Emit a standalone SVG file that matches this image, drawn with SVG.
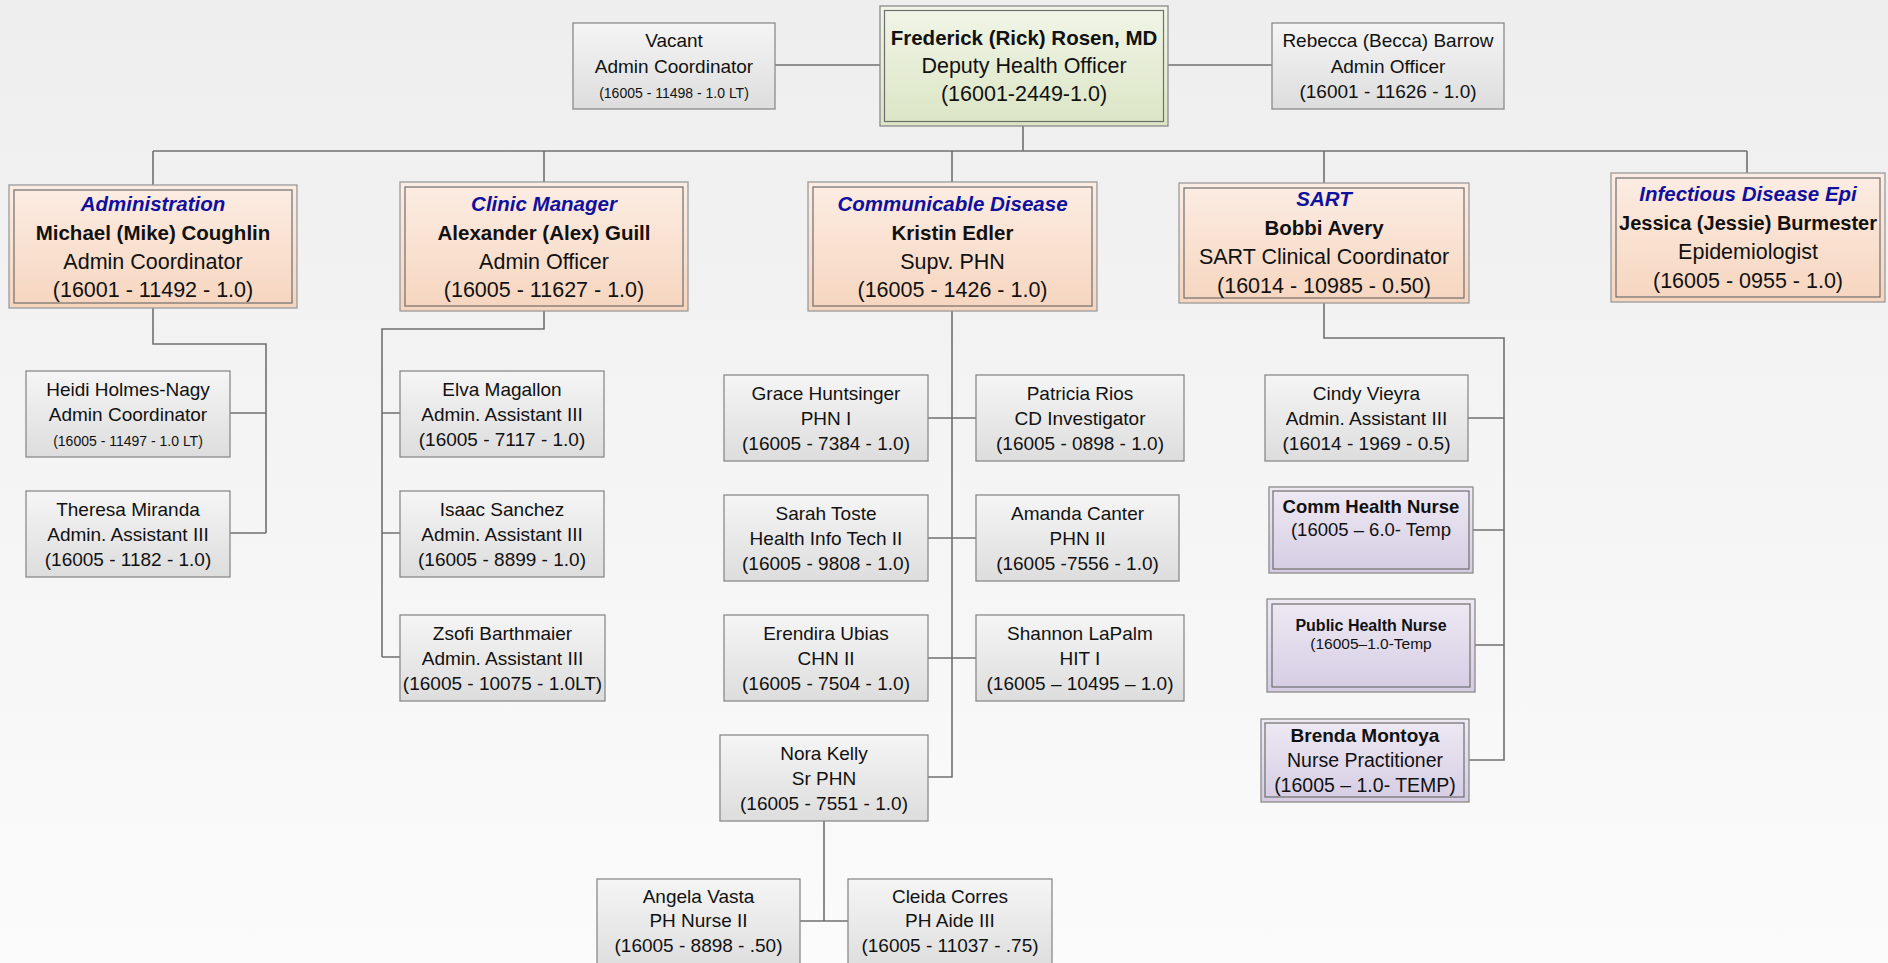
<svg xmlns="http://www.w3.org/2000/svg" width="1888" height="963" viewBox="0 0 1888 963">
<defs>
<linearGradient id="bg" x1="0" y1="0" x2="0" y2="1"><stop offset="0" stop-color="#EEEEEE"/><stop offset="1" stop-color="#FBFBFB"/></linearGradient>
<linearGradient id="gGray" x1="0" y1="0" x2="0" y2="1"><stop offset="0" stop-color="#F5F5F5"/><stop offset="1" stop-color="#DDDDDD"/></linearGradient>
<linearGradient id="gPeach" x1="0" y1="0" x2="0" y2="1"><stop offset="0" stop-color="#FCEDE4"/><stop offset="1" stop-color="#F6D5BE"/></linearGradient>
<linearGradient id="gGreen" x1="0" y1="0" x2="0" y2="1"><stop offset="0" stop-color="#F1F5E8"/><stop offset="1" stop-color="#DBE5C4"/></linearGradient>
<linearGradient id="gPurple" x1="0" y1="0" x2="0" y2="1"><stop offset="0" stop-color="#EEEAF4"/><stop offset="1" stop-color="#D5CCE3"/></linearGradient>
</defs>
<style>
text{font-family:"Liberation Sans",Arial,sans-serif;fill:#111;text-anchor:middle}
.box{fill:url(#gGray);stroke:#8A8A8A;stroke-width:1.3}
.peach{fill:url(#gPeach);stroke:#9A9A9A;stroke-width:1.3}
.green{fill:url(#gGreen);stroke:#8A8A8A;stroke-width:1.3}
.purple{fill:url(#gPurple);stroke:#8A8A8A;stroke-width:1.3}
.inner{fill:none;stroke:#6E6E6E;stroke-width:1.2}
.hd{font-size:20.5px;font-weight:bold;font-style:italic;fill:#10109E}
.nm{font-size:20.5px;font-weight:bold}
.l1{font-size:21.5px}
.c{font-size:19px}
.sm{font-size:14px}
.conn path{fill:none;stroke:#707070;stroke-width:1.6}
</style>
<rect x="0" y="0" width="1888" height="963" fill="url(#bg)"/>

<g class="conn" id="connectors">
<path d="M775 65H880"/>
<path d="M1168 65H1272"/>
<path d="M1023 126V151"/>
<path d="M153 151H1747"/>
<path d="M153 151V185M544 151V182M952 151V182M1324 151V183M1747 151V173"/>
<path d="M153 308V344H266V533M230 413H266M230 533H266"/>
<path d="M544 311V329H382V657M382 413H400M382 533H400M382 657H400"/>
<path d="M952 311V777H928M928 418H976M928 538H976M928 658H976"/>
<path d="M824 821V921M800 921H848"/>
<path d="M1324 303V338H1504V760H1469M1468 418H1504M1473 530H1504M1475 645H1504"/>
</g>

<g id="rick">
<rect class="green" x="880" y="6" width="288" height="120"/>
<rect class="inner" x="884.5" y="10.5" width="279" height="111"/>
<text class="nm" x="1024" y="45">Frederick (Rick) Rosen, MD</text>
<text class="l1" x="1024" y="73">Deputy Health Officer</text>
<text class="l1" x="1024" y="101">(16001-2449-1.0)</text>
</g>

<g id="vacant">
<rect class="box" x="573" y="23" width="202" height="86"/>
<text class="c" x="674" y="47">Vacant</text>
<text class="c" x="674" y="73">Admin Coordinator</text>
<text class="sm" x="674" y="98">(16005 - 11498 - 1.0 LT)</text>
</g>

<g id="rebecca">
<rect class="box" x="1272" y="23" width="232" height="86"/>
<text class="c" x="1388" y="47">Rebecca (Becca) Barrow</text>
<text class="c" x="1388" y="73">Admin Officer</text>
<text class="c" x="1388" y="98">(16001 - 11626 - 1.0)</text>
</g>

<g id="administration">
<rect class="peach" x="9" y="185" width="288" height="123"/>
<rect class="inner" x="14" y="190" width="278" height="113"/>
<text class="hd" x="153" y="211">Administration</text>
<text class="nm" x="153" y="240">Michael (Mike) Coughlin</text>
<text class="l1" x="153" y="269">Admin Coordinator</text>
<text class="l1" x="153" y="297">(16001 - 11492 - 1.0)</text>
</g>

<g id="clinic">
<rect class="peach" x="400" y="182" width="288" height="129"/>
<rect class="inner" x="405" y="187" width="278" height="119"/>
<text class="hd" x="544" y="211">Clinic Manager</text>
<text class="nm" x="544" y="240">Alexander (Alex) Guill</text>
<text class="l1" x="544" y="269">Admin Officer</text>
<text class="l1" x="544" y="297">(16005 - 11627 - 1.0)</text>
</g>

<g id="cd">
<rect class="peach" x="808" y="182" width="289" height="129"/>
<rect class="inner" x="813" y="187" width="279" height="119"/>
<text class="hd" x="952.5" y="211">Communicable Disease</text>
<text class="nm" x="952.5" y="240">Kristin Edler</text>
<text class="l1" x="952.5" y="269">Supv. PHN</text>
<text class="l1" x="952.5" y="297">(16005 - 1426 - 1.0)</text>
</g>

<g id="sart">
<rect class="peach" x="1179" y="183" width="290" height="120"/>
<rect class="inner" x="1184" y="188" width="280" height="110"/>
<text class="hd" x="1324" y="206">SART</text>
<text class="nm" x="1324" y="235">Bobbi Avery</text>
<text class="l1" x="1324" y="264">SART Clinical Coordinator</text>
<text class="l1" x="1324" y="293">(16014 - 10985 - 0.50)</text>
</g>

<g id="ide">
<rect class="peach" x="1611" y="173" width="274" height="129"/>
<rect class="inner" x="1616" y="178" width="264" height="119"/>
<text class="hd" x="1748" y="201">Infectious Disease Epi</text>
<text class="nm" x="1748" y="230" style="font-size:20px">Jessica (Jessie) Burmester</text>
<text class="l1" x="1748" y="259">Epidemiologist</text>
<text class="l1" x="1748" y="288">(16005 - 0955 - 1.0)</text>
</g>

<g id="heidi">
<rect class="box" x="26" y="371" width="204" height="86"/>
<text class="c" x="128" y="396">Heidi Holmes-Nagy</text>
<text class="c" x="128" y="421">Admin Coordinator</text>
<text class="sm" x="128" y="446">(16005 - 11497 - 1.0 LT)</text>
</g>

<g id="theresa">
<rect class="box" x="26" y="491" width="204" height="86"/>
<text class="c" x="128" y="516">Theresa Miranda</text>
<text class="c" x="128" y="541">Admin. Assistant III</text>
<text class="c" x="128" y="566">(16005 - 1182 - 1.0)</text>
</g>

<g id="elva">
<rect class="box" x="400" y="371" width="204" height="86"/>
<text class="c" x="502" y="396">Elva Magallon</text>
<text class="c" x="502" y="421">Admin. Assistant III</text>
<text class="c" x="502" y="446">(16005 - 7117 - 1.0)</text>
</g>

<g id="isaac">
<rect class="box" x="400" y="491" width="204" height="86"/>
<text class="c" x="502" y="516">Isaac Sanchez</text>
<text class="c" x="502" y="541">Admin. Assistant III</text>
<text class="c" x="502" y="566">(16005 - 8899 - 1.0)</text>
</g>

<g id="zsofi">
<rect class="box" x="400" y="615" width="205" height="86"/>
<text class="c" x="502.5" y="640">Zsofi Barthmaier</text>
<text class="c" x="502.5" y="665">Admin. Assistant III</text>
<text class="c" x="502.5" y="690">(16005 - 10075 - 1.0LT)</text>
</g>

<g id="grace">
<rect class="box" x="724" y="375" width="204" height="86"/>
<text class="c" x="826" y="400">Grace Huntsinger</text>
<text class="c" x="826" y="425">PHN I</text>
<text class="c" x="826" y="450">(16005 - 7384 - 1.0)</text>
</g>

<g id="patricia">
<rect class="box" x="976" y="375" width="208" height="86"/>
<text class="c" x="1080" y="400">Patricia Rios</text>
<text class="c" x="1080" y="425">CD Investigator</text>
<text class="c" x="1080" y="450">(16005 - 0898 - 1.0)</text>
</g>

<g id="sarah">
<rect class="box" x="724" y="495" width="204" height="86"/>
<text class="c" x="826" y="520">Sarah Toste</text>
<text class="c" x="826" y="545">Health Info Tech II</text>
<text class="c" x="826" y="570">(16005 - 9808 - 1.0)</text>
</g>

<g id="amanda">
<rect class="box" x="976" y="495" width="203" height="86"/>
<text class="c" x="1077.5" y="520">Amanda Canter</text>
<text class="c" x="1077.5" y="545">PHN II</text>
<text class="c" x="1077.5" y="570">(16005 -7556 - 1.0)</text>
</g>

<g id="erendira">
<rect class="box" x="724" y="615" width="204" height="86"/>
<text class="c" x="826" y="640">Erendira Ubias</text>
<text class="c" x="826" y="665">CHN II</text>
<text class="c" x="826" y="690">(16005 - 7504 - 1.0)</text>
</g>

<g id="shannon">
<rect class="box" x="976" y="615" width="208" height="86"/>
<text class="c" x="1080" y="640">Shannon LaPalm</text>
<text class="c" x="1080" y="665">HIT I</text>
<text class="c" x="1080" y="690">(16005 – 10495 – 1.0)</text>
</g>

<g id="nora">
<rect class="box" x="720" y="735" width="208" height="86"/>
<text class="c" x="824" y="760">Nora Kelly</text>
<text class="c" x="824" y="785">Sr PHN</text>
<text class="c" x="824" y="810">(16005 - 7551 - 1.0)</text>
</g>

<g id="angela">
<rect class="box" x="597" y="879" width="203" height="92"/>
<text class="c" x="698.5" y="903">Angela Vasta</text>
<text class="c" x="698.5" y="927">PH Nurse II</text>
<text class="c" x="698.5" y="952">(16005 - 8898 - .50)</text>
</g>

<g id="cleida">
<rect class="box" x="848" y="879" width="204" height="92"/>
<text class="c" x="950" y="903">Cleida Corres</text>
<text class="c" x="950" y="927">PH Aide III</text>
<text class="c" x="950" y="952">(16005 - 11037 - .75)</text>
</g>

<g id="cindy">
<rect class="box" x="1265" y="375" width="203" height="86"/>
<text class="c" x="1366.5" y="400">Cindy Vieyra</text>
<text class="c" x="1366.5" y="425">Admin. Assistant III</text>
<text class="c" x="1366.5" y="450">(16014 - 1969 - 0.5)</text>
</g>

<g id="commnurse">
<rect class="purple" x="1269" y="487" width="204" height="86"/>
<rect class="inner" x="1273" y="491" width="196" height="78"/>
<text x="1371" y="513" style="font-size:18.5px;font-weight:bold">Comm Health Nurse</text>
<text x="1371" y="536" style="font-size:18.5px">(16005 – 6.0- Temp</text>
</g>

<g id="phnurse">
<rect class="purple" x="1267" y="599" width="208" height="93"/>
<rect class="inner" x="1272" y="604" width="198" height="83"/>
<text x="1371" y="631" style="font-size:16px;font-weight:bold">Public Health Nurse</text>
<text x="1371" y="649" style="font-size:15.5px">(16005–1.0-Temp</text>
</g>

<g id="brenda">
<rect class="purple" x="1261" y="719" width="208" height="83"/>
<rect class="inner" x="1265" y="723" width="199" height="74"/>
<text x="1365" y="742" style="font-size:19px;font-weight:bold">Brenda Montoya</text>
<text x="1365" y="767" style="font-size:19.5px">Nurse Practitioner</text>
<text x="1365" y="792" style="font-size:19.5px">(16005 – 1.0- TEMP)</text>
</g>
</svg>
